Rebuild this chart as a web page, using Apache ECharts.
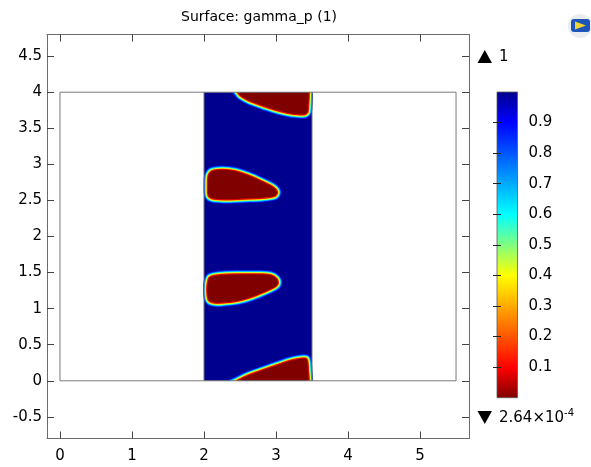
<!DOCTYPE html>
<html>
<head>
<meta charset="utf-8">
<script src="https://cdn.jsdelivr.net/npm/echarts@6/dist/echarts.min.js"></script>
<style>
  html, body { margin: 0; padding: 0; background: #fff; }
  #chart { width: 591px; height: 467px; }
</style>
</head>
<body>
<div id="chart"></div>
<script>
// model geometry [x0, y0, x1, y1]
const domain = [0, 0, 5.5, 4];
const channel = [2, 0, 3.5, 4];

// regions where gamma_p ~ 0 (0.5 contour)
const blobTop = [[2.36, 4.12], [2.46, 4.0], [2.5, 3.95], [2.62, 3.88], [2.78, 3.82], [2.96, 3.76],
  [3.15, 3.71], [3.29, 3.69], [3.4, 3.69], [3.44, 3.72], [3.45, 3.78], [3.46, 3.98], [3.46, 4.12]];
const blobUpper = [[2.05, 2.72], [2.06, 2.85], [2.11, 2.91], [2.25, 2.93], [2.43, 2.91], [2.62, 2.85],
  [2.8, 2.77], [2.96, 2.69], [3.02, 2.62], [2.99, 2.56], [2.8, 2.53], [2.57, 2.52], [2.34, 2.51],
  [2.13, 2.52], [2.06, 2.56]];
const blobLower = [[2.04, 1.26], [2.05, 1.37], [2.08, 1.44], [2.22, 1.47], [2.45, 1.48], [2.73, 1.48],
  [2.92, 1.47], [3.01, 1.42], [3.03, 1.35], [2.99, 1.3], [2.82, 1.22], [2.64, 1.15], [2.45, 1.1],
  [2.27, 1.08], [2.13, 1.08], [2.06, 1.12]];
const blobBottom = [[2.2, -0.12], [2.45, 0.0], [2.59, 0.07], [2.78, 0.14], [3.01, 0.22], [3.19, 0.28],
  [3.33, 0.31], [3.42, 0.31], [3.44, 0.27], [3.45, 0.15], [3.46, 0.0], [3.46, -0.12]];
const blobs = [blobTop, blobUpper, blobLower, blobBottom];

const xTicks = [0, 1, 2, 3, 4, 5];
const yTicks = [-0.5, 0, 0.5, 1, 1.5, 2, 2.5, 3, 3.5, 4, 4.5];
const barTicks = [0.1, 0.2, 0.3, 0.4, 0.5, 0.6, 0.7, 0.8, 0.9];
const rangeMax = '1';
const rangeMinBase = '2.64×10';
const rangeMinExp = '-4';

// rainbow colour table (value -> colour)
const cmapStops = [0, 0.1, 0.4, 0.6, 0.9, 1];
const cmapColors = ['#800000', '#ff0000', '#ffff00', '#00ffff', '#0000ff', '#00008f'];

const FONT = 'DejaVu Sans';
const G = { left: 47, top: 34.5, width: 422, height: 404 };
const xr = [-0.18, 5.68], yr = [-0.8, 4.8];
const sx = G.width / (xr[1] - xr[0]), sy = G.height / (yr[1] - yr[0]);

const chart = echarts.init(document.getElementById('chart'));

function frameAxis(pos, range, ticks, labels) {
  return {
    type: 'value', gridIndex: 0, position: pos, min: range[0], max: range[1],
    axisLine: { show: true, onZero: false, lineStyle: { color: '#6b6b6b', width: 1 } },
    axisTick: { show: true, inside: true, length: 7, customValues: ticks, lineStyle: { color: '#444' } },
    axisLabel: labels ? {
      show: true, customValues: ticks, color: '#000', fontSize: 15, fontFamily: FONT,
      margin: pos === 'bottom' ? 10 : 5
    } : { show: false },
    splitLine: { show: false }
  };
}
function hiddenAxis(grid, min, max) {
  return { type: 'value', gridIndex: grid, min: min, max: max, show: false };
}

// blob outline: outer colour rings of the smooth transition
const rim = [
  { w: 8, c: '#0018ff' },
  { w: 6.5, c: '#0090ff' },
  { w: 5, c: '#00ffff' },
  { w: 4, c: '#90ff70' },
  { w: 3, c: '#ffff00' },
  { w: 2, c: '#ff8000' }
];

const option = {
  animation: false,
  grid: [
    { left: G.left, top: G.top, width: G.width, height: G.height, outerBoundsMode: 'none' },
    {
      left: G.left + (channel[0] - xr[0]) * sx, top: G.top + (yr[1] - channel[3]) * sy,
      width: (channel[2] - channel[0]) * sx, height: (channel[3] - channel[1]) * sy,
      outerBoundsMode: 'none'
    },
    { left: 497, top: 92, width: 20.5, height: 305.7, outerBoundsMode: 'none' }
  ],
  xAxis: [
    frameAxis('bottom', xr, xTicks, true),
    frameAxis('top', xr, xTicks, false),
    hiddenAxis(1, channel[0], channel[2]),
    hiddenAxis(2, 0, 1)
  ],
  yAxis: [
    frameAxis('left', yr, yTicks, true),
    frameAxis('right', yr, yTicks, false),
    hiddenAxis(1, channel[1], channel[3]),
    {
      type: 'value', gridIndex: 2, position: 'right', min: 0, max: 1, z: 5,
      axisLine: { show: false },
      axisTick: { show: true, inside: true, length: 4, customValues: barTicks, lineStyle: { color: '#222' } },
      axisLabel: { customValues: barTicks, color: '#000', fontSize: 15, fontFamily: FONT, margin: 11 },
      splitLine: { show: false }
    },
    {
      type: 'value', gridIndex: 2, position: 'left', min: 0, max: 1, z: 5,
      axisLine: { show: false },
      axisTick: { show: true, inside: true, length: 4, customValues: barTicks, lineStyle: { color: '#222' } },
      axisLabel: { show: false },
      splitLine: { show: false }
    }
  ],
  series: [
    {
      // domain and channel surface
      type: 'custom', xAxisIndex: 0, yAxisIndex: 0, z: 1, silent: true,
      data: [domain.concat(channel)],
      renderItem: function (params, api) {
        const d0 = api.coord([domain[0], domain[3]]), d1 = api.coord([domain[2], domain[1]]);
        const c0 = api.coord([channel[0], channel[3]]), c1 = api.coord([channel[2], channel[1]]);
        return {
          type: 'group', children: [
            { type: 'rect', shape: { x: d0[0], y: d0[1], width: d1[0] - d0[0], height: d1[1] - d0[1] },
              style: { fill: '#fff' } },
            { type: 'rect', shape: { x: c0[0], y: c0[1], width: c1[0] - c0[0], height: c1[1] - c0[1] },
              style: { fill: cmapColors[cmapColors.length - 1] } }
          ]
        };
      }
    },
    {
      // gamma_p ~ 0 pockets, clipped to the channel
      type: 'custom', xAxisIndex: 2, yAxisIndex: 2, z: 2, clip: true, silent: true,
      data: blobs.map(b => b[1]),
      renderItem: function (params, api) {
        const pts = blobs[params.dataIndex].map(p => api.coord(p));
        const children = rim.map(r => ({
          type: 'polygon', shape: { points: pts, smooth: 0.3 },
          style: { fill: 'none', stroke: r.c, lineWidth: r.w, lineJoin: 'round' }
        }));
        children.push({
          type: 'polygon', shape: { points: pts, smooth: 0.3 },
          style: { fill: cmapColors[0], stroke: '#e00000', lineWidth: 1 }
        });
        return { type: 'group', children: children };
      }
    },
    {
      // geometry edges
      type: 'custom', xAxisIndex: 0, yAxisIndex: 0, z: 3, silent: true,
      data: [domain],
      renderItem: function (params, api) {
        const d0 = api.coord([domain[0], domain[3]]), d1 = api.coord([domain[2], domain[1]]);
        const lineStyle = { stroke: '#7a7a7a', lineWidth: 1, fill: 'none' };
        const edges = [channel[0], channel[2]].map(x => {
          const a = api.coord([x, channel[1]]), b = api.coord([x, channel[3]]);
          return { type: 'line', shape: { x1: a[0], y1: a[1], x2: b[0], y2: b[1] }, style: lineStyle };
        });
        return {
          type: 'group', children: [
            { type: 'rect', shape: { x: d0[0], y: d0[1], width: d1[0] - d0[0], height: d1[1] - d0[1] },
              style: lineStyle }
          ].concat(edges)
        };
      }
    },
    {
      // colour legend bar
      type: 'custom', xAxisIndex: 3, yAxisIndex: 3, z: 2, silent: true,
      data: [[0, 0, 1, 1]],
      renderItem: function (params, api) {
        const p0 = api.coord([0, 1]), p1 = api.coord([1, 0]);
        return {
          type: 'rect', shape: { x: p0[0], y: p0[1], width: p1[0] - p0[0], height: p1[1] - p0[1] },
          style: {
            fill: new echarts.graphic.LinearGradient(0, 1, 0, 0,
              cmapStops.map((s, i) => ({ offset: s, color: cmapColors[i] }))),
            stroke: '#5a5a5a', lineWidth: 0.8
          }
        };
      }
    }
  ],
  graphic: [
    { type: 'text', x: 259, y: 17,
      style: { text: 'Surface: gamma_p (1)', font: '14px ' + FONT, fill: '#000', align: 'center', verticalAlign: 'middle' } },
    { type: 'polygon', shape: { points: [[477.5, 63], [492, 63], [484.75, 50]] }, style: { fill: '#000' } },
    { type: 'text', x: 499, y: 57,
      style: { text: rangeMax, font: '15px ' + FONT, fill: '#000', verticalAlign: 'middle' } },
    { type: 'polygon', shape: { points: [[477.5, 411], [492, 411], [484.75, 424]] }, style: { fill: '#000' } },
    { type: 'text', x: 499, y: 418,
      style: {
        text: '{b|' + rangeMinBase + '}{s|' + rangeMinExp + '}', verticalAlign: 'middle',
        rich: {
          b: { fontSize: 15, fontFamily: FONT, fill: '#000', color: '#000', lineHeight: 20 },
          s: { fontSize: 10, fontFamily: FONT, fill: '#000', color: '#000', verticalAlign: 'top', lineHeight: 10 }
        }
      } },
    // small logo in the corner
    { type: 'circle', shape: { cx: 580, cy: 26, r: 12 }, style: { fill: '#e9ecf1' } },
    { type: 'rect', shape: { x: 571, y: 19, width: 19, height: 13, r: 3 }, style: { fill: '#1d56b8' } },
    { type: 'polygon', shape: { points: [[575, 21.5], [586, 25.5], [575, 29.5]] }, style: { fill: '#f2d230' } }
  ]
};

chart.setOption(option);
</script>
</body>
</html>
